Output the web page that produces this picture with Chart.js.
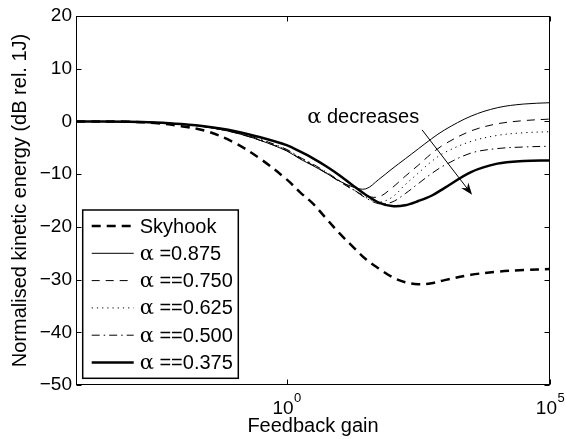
<!DOCTYPE html>
<html>
<head>
<meta charset="utf-8">
<script src="https://cdn.jsdelivr.net/npm/chart.js@4.4.0/dist/chart.umd.min.js"></script>
<style>
  html, body { margin: 0; padding: 0; background: #fff; }
  #wrap { width: 566px; height: 439px; }
</style>
</head>
<body>
<div id="wrap"><canvas id="chart"></canvas></div>
<script>
// feedback gain (log axis), shared by every curve
const gains = [1e-4, 1e-3, 3.16e-3, 1e-2, 3.16e-2, 0.1, 0.316, 1, 1.78, 3.16, 5.62, 10,
               17.8, 31.6, 56.2, 100, 178, 316, 562, 1000, 3160, 1e4, 3.16e4, 1e5];

// normalised kinetic energy, dB rel. 1J
const skyhook = [0, -0.05, -0.3, -0.9, -1.9, -4.0, -7.1, -11.0, -13.4, -15.6, -18.4, -21.2,
                 -23.7, -26.1, -27.9, -29.5, -30.5, -30.9, -30.7, -30.1, -29.1, -28.5, -28.2, -28.0];
const a875 = [0, -0.05, -0.2, -0.5, -1.1, -2.1, -3.6, -5.6, -7.1, -8.4, -9.8, -11.3,
              -12.4, -12.8, -11.0, -9.0, -7.1, -5.2, -3.3, -1.6, 1.0, 2.6, 3.3, 3.55];
const a750 = [0, -0.05, -0.2, -0.5, -1.1, -2.1, -3.6, -5.5, -7.0, -8.3, -9.8, -11.4,
              -12.9, -14.1, -14.3, -12.6, -10.4, -8.3, -6.1, -4.3, -1.8, -0.45, 0.15, 0.45];
const a625 = [0, -0.05, -0.2, -0.5, -1.1, -2.0, -3.5, -5.4, -6.9, -8.2, -9.7, -11.3,
              -12.9, -14.4, -15.3, -14.4, -12.0, -9.8, -7.6, -5.9, -3.8, -2.65, -2.15, -1.95];
const a500 = [0, -0.05, -0.2, -0.5, -1.0, -2.0, -3.4, -5.3, -6.8, -8.1, -9.6, -11.2,
              -12.8, -14.5, -15.6, -15.3, -13.7, -11.8, -9.9, -8.3, -6.0, -5.15, -4.85, -4.7];
const a375 = [0, -0.05, -0.2, -0.5, -1.0, -1.8, -3.0, -4.5, -5.7, -7.0, -8.5, -10.2,
              -12.1, -13.9, -15.4, -16.05, -15.9, -15.1, -14.1, -12.6, -9.6, -8.0, -7.5, -7.4];

const seriesNames = ['Skyhook', 'α =0.875', 'α ==0.750', 'α ==0.625', 'α ==0.500', 'α ==0.375'];
const yTicks = [20, 10, 0, -10, -20, -30, -40, -50];
const xTicks = [1, 1e5];
const xTickExps = ['0', '5'];

// annotation "α decreases" and its arrow, in data units
const noteAt = { x: 2.45, y: -0.35 };
const arrowFrom = { x: 372, y: -1.6 };
const arrowTo = { x: 3310, y: -13.9 };

const SANS = '"Liberation Sans", Arial, Helvetica, sans-serif';
const GREEK = '"DejaVu Serif", serif';
Chart.defaults.font.family = SANS;
Chart.defaults.color = '#000';

const styles = [
  { borderWidth: 2.5, borderDash: [9, 6] },
  { borderWidth: 1, borderDash: [] },
  { borderWidth: 1, borderDash: [8, 6] },
  { borderWidth: 1, borderDash: [1.2, 4] },
  { borderWidth: 1, borderDash: [8, 4, 1.5, 4] },
  { borderWidth: 2.5, borderDash: [] }
];
const values = [skyhook, a875, a750, a625, a500, a375];

const datasets = values.map((vals, i) => ({
  label: seriesNames[i],
  data: vals.map((v, k) => ({ x: gains[k], y: v })),
  borderColor: '#000',
  backgroundColor: '#000',
  borderWidth: styles[i].borderWidth,
  borderDash: styles[i].borderDash,
  pointRadius: 0,
  tension: 0.35,
  fill: false
}));

function drawLabel(ctx, text, x, y, size) {
  // α from a serif face, the rest in sans
  if (text.startsWith('α')) {
    ctx.font = (size + 1) + 'px ' + GREEK;
    ctx.fillText('α', x, y);
    const w = ctx.measureText('α').width;
    ctx.font = size + 'px ' + SANS;
    ctx.fillText(text.slice(1), x + w, y);
  } else {
    ctx.font = size + 'px ' + SANS;
    ctx.fillText(text, x, y);
  }
}

const decor = {
  id: 'decor',
  afterDatasetsDraw(chart) {
    const { ctx, chartArea: a, scales: { x, y } } = chart;
    const L = Math.round(a.left) + 0.5, R = Math.round(a.right) - 0.5;
    const T = Math.round(a.top) + 0.5, B = Math.round(a.bottom) - 0.5;
    ctx.save();
    ctx.strokeStyle = '#000';
    ctx.fillStyle = '#000';
    ctx.lineWidth = 1;
    ctx.setLineDash([]);
    ctx.strokeRect(L, T, R - L, B - T);

    // inward ticks
    const tl = 5;
    ctx.beginPath();
    yTicks.forEach(v => {
      const py = Math.round(y.getPixelForValue(v)) + 0.5;
      ctx.moveTo(L, py); ctx.lineTo(L + tl, py);
      ctx.moveTo(R, py); ctx.lineTo(R - tl, py);
    });
    xTicks.forEach(v => {
      const px = Math.round(x.getPixelForValue(v)) + 0.5;
      ctx.moveTo(px, B); ctx.lineTo(px, B - tl);
      ctx.moveTo(px, T); ctx.lineTo(px, T + tl);
    });
    ctx.stroke();

    // x tick labels 10^n
    ctx.textBaseline = 'alphabetic';
    ctx.textAlign = 'left';
    xTicks.forEach((v, i) => {
      const px = x.getPixelForValue(v);
      ctx.font = '19px ' + SANS;
      const wb = ctx.measureText('10').width;
      ctx.font = '13px ' + SANS;
      const we = ctx.measureText(xTickExps[i]).width;
      const x0 = px - (wb + we) / 2;
      ctx.font = '19px ' + SANS;
      ctx.fillText('10', x0, 414);
      ctx.font = '13px ' + SANS;
      ctx.fillText(xTickExps[i], x0 + wb + 0.5, 402);
    });

    // annotation
    drawLabel(ctx, 'α decreases', x.getPixelForValue(noteAt.x), y.getPixelForValue(noteAt.y), 20);
    const x1 = x.getPixelForValue(arrowFrom.x), y1 = y.getPixelForValue(arrowFrom.y);
    const x2 = x.getPixelForValue(arrowTo.x), y2 = y.getPixelForValue(arrowTo.y);
    const ang = Math.atan2(y2 - y1, x2 - x1);
    ctx.beginPath();
    ctx.moveTo(x1, y1);
    ctx.lineTo(x2 - 6 * Math.cos(ang), y2 - 6 * Math.sin(ang));
    ctx.stroke();
    const hl = 12, hw = 4.5;
    ctx.beginPath();
    ctx.moveTo(x2, y2);
    ctx.lineTo(x2 - hl * Math.cos(ang) + hw * Math.sin(ang), y2 - hl * Math.sin(ang) - hw * Math.cos(ang));
    ctx.lineTo(x2 - 8 * Math.cos(ang), y2 - 8 * Math.sin(ang));
    ctx.lineTo(x2 - hl * Math.cos(ang) - hw * Math.sin(ang), y2 - hl * Math.sin(ang) + hw * Math.cos(ang));
    ctx.closePath();
    ctx.fill();

    // legend box
    const bx = a.left + 6.7, bw = 155.6, bh = 168.3;
    const by = a.bottom - 6.7 - bh;
    ctx.fillStyle = '#fff';
    ctx.fillRect(bx, by, bw, bh);
    ctx.lineWidth = 1.5;
    ctx.strokeRect(bx, by, bw, bh);
    ctx.fillStyle = '#000';
    ctx.textBaseline = 'middle';
    chart.data.datasets.forEach((ds, i) => {
      const ry = by + 16 + i * 27.3;
      ctx.lineWidth = ds.borderWidth;
      ctx.setLineDash(ds.borderDash);
      ctx.beginPath();
      ctx.moveTo(bx + 9, ry);
      ctx.lineTo(bx + 51, ry);
      ctx.stroke();
      ctx.setLineDash([]);
      drawLabel(ctx, ds.label, bx + 57, ry + 1, 20);
    });
    ctx.restore();
  }
};

new Chart(document.getElementById('chart'), {
  type: 'line',
  data: { datasets },
  plugins: [decor],
  options: {
    responsive: true,
    maintainAspectRatio: false,
    animation: false,
    layout: { padding: { left: 0, right: 16, top: 16, bottom: 0 } },
    plugins: { legend: { display: false }, tooltip: { enabled: false } },
    scales: {
      x: {
        type: 'logarithmic',
        min: 1e-4,
        max: 1e5,
        grid: { display: false },
        border: { display: false },
        ticks: { display: false },
        afterBuildTicks: s => { s.ticks = xTicks.map(v => ({ value: v })); },
        afterFit: s => { s.height = 54; },
        title: { display: true, text: 'Feedback gain', font: { size: 20 }, padding: { top: 0, bottom: 1 } }
      },
      y: {
        min: -50,
        max: 20,
        grid: { display: false, drawTicks: false },
        border: { display: false },
        afterBuildTicks: s => { s.ticks = yTicks.map(v => ({ value: v })); },
        afterFit: s => { s.width = 76; },
        ticks: {
          font: { size: 19 },
          padding: 4,
          callback: v => String(v).replace('-', '\u2212')
        },
        title: {
          display: true,
          text: 'Normalised kinetic energy (dB rel. 1J)',
          font: { size: 20 },
          padding: { top: 8, bottom: 0 }
        }
      }
    }
  }
});
</script>
</body>
</html>
